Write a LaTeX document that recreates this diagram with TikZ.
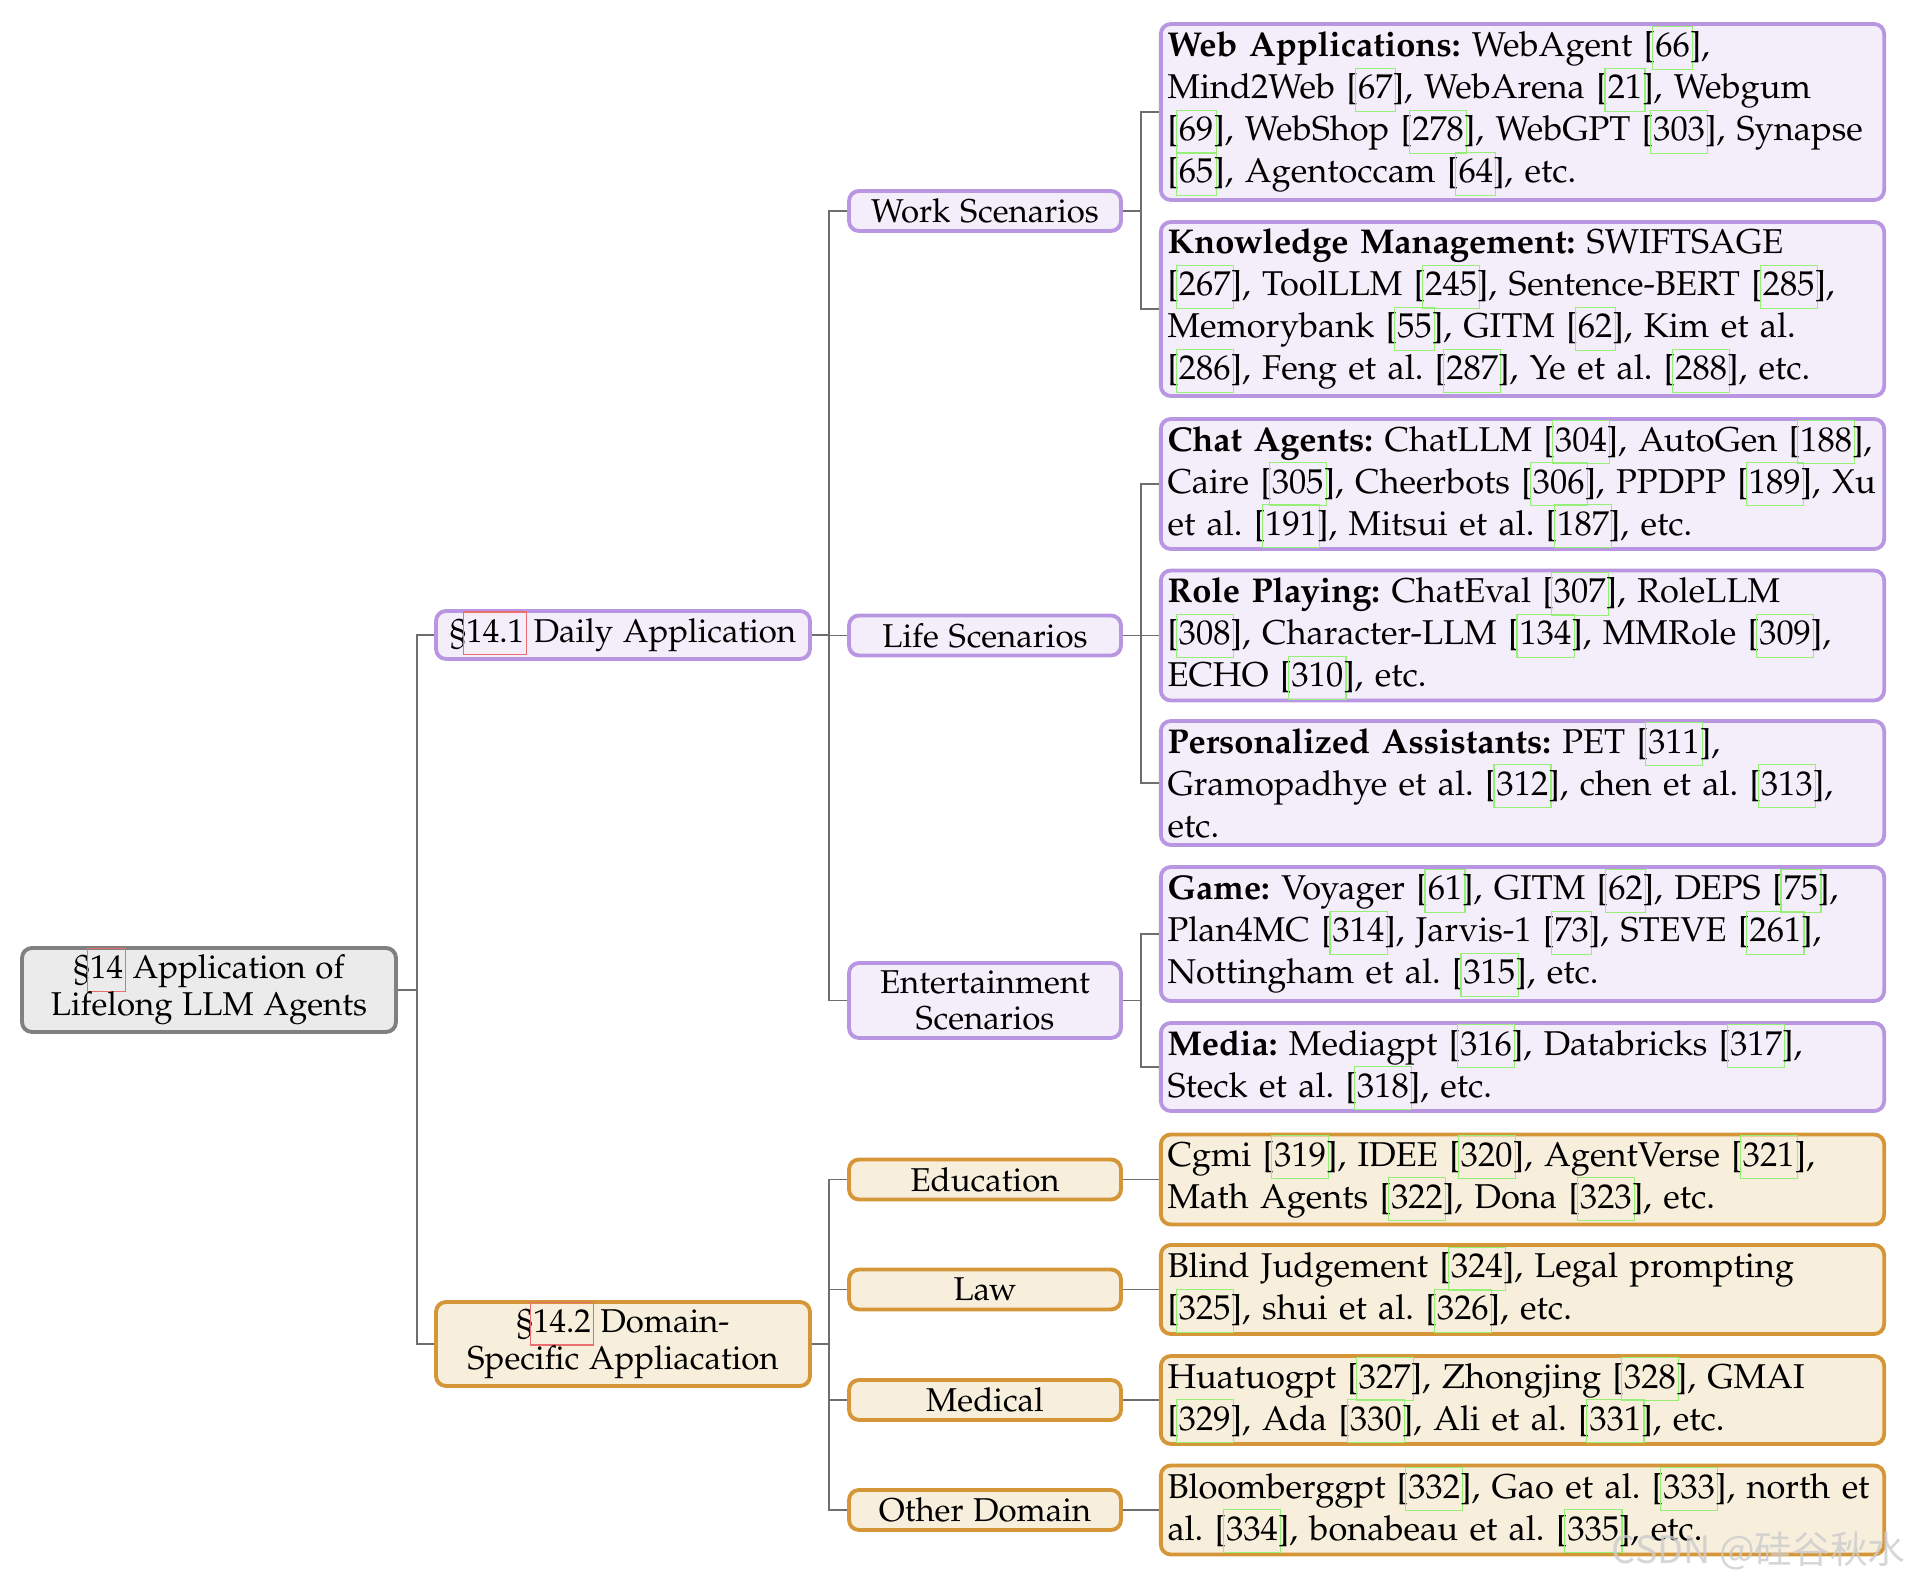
\documentclass[tikz,border=0pt]{standalone}
\usepackage[T1]{fontenc}
\usepackage{mathpazo}
\usepackage{fontspec}
\newfontfamily\wmfont{Noto Sans CJK SC}
\usepackage[T1]{fontenc}
\renewcommand{\rmdefault}{pplx}
\renewcommand{\familydefault}{\rmdefault}
\definecolor{purpB}{RGB}{185,150,225}
\definecolor{purpF}{RGB}{243,238,250}
\definecolor{orgB}{RGB}{212,150,55}
\definecolor{orgF}{RGB}{247,238,220}
\definecolor{rootB}{RGB}{128,128,128}
\definecolor{rootF}{RGB}{235,235,235}
\definecolor{connC}{RGB}{110,110,110}
\definecolor{linkgreen}{RGB}{150,240,120}
\definecolor{linkred}{RGB}{235,110,110}
\newcommand\lnkbox[2]{\setbox0=\hbox{#2}%
  \rlap{\kern-1pt\smash{\color{#1}\setlength\fboxsep{0pt}\setlength\fboxrule{0.35pt}%
  \fbox{\rule[-3.6pt]{0pt}{12.5pt}\kern\dimexpr\wd0+1.3pt\relax}}}\box0\relax}
\newcommand\rf[1]{[\lnkbox{linkgreen}{#1}]}
\newcommand\sect[1]{\S\lnkbox{linkred}{#1}}
\tikzset{
  basebox/.style={draw, line width=1.15pt, rounded corners=3pt, inner sep=0pt, anchor=center},
  rootbox/.style={basebox, draw=rootB, fill=rootF, align=center,
     font=\fontfamily{pplx}\fontsize{9.9}{11.2}\selectfont\frenchspacing, minimum width=112.2pt, minimum height=25.2pt},
  midP/.style={basebox, draw=purpB, fill=purpF, align=center,
     font=\fontfamily{pplx}\fontsize{9.9}{11}\selectfont\frenchspacing},
  midO/.style={basebox, draw=orgB, fill=orgF, align=center,
     font=\fontfamily{pplx}\fontsize{9.9}{11}\selectfont\frenchspacing},
  l1/.style={minimum width=112.2pt},
  l2/.style={minimum width=81.6pt},
  leafP/.style={basebox, draw=purpB, fill=purpF, align=left, text width=213pt, inner xsep=2pt,
     font=\fontfamily{pplx}\fontsize{10.33}{12.6}\selectfont\frenchspacing},
  leafO/.style={basebox, draw=orgB, fill=orgF, align=left, text width=213pt, inner xsep=2pt,
     font=\fontfamily{pplx}\fontsize{10.33}{12.6}\selectfont\frenchspacing},
  conn/.style={draw=connC, line width=0.4pt},
}
\begin{document}
\begin{tikzpicture}[x=0.3pt, y=-0.3pt]
\useasboundingbox (0,0) rectangle (1910,1582);
% root
\node[rootbox] (root) at (209,990) {\sect{14} Application of\\Lifelong LLM Agents};
% level 1
\node[midP, l1, minimum height=14.4pt] (daily) at (623,635) {\sect{14.1} Daily Application};
\node[midO, l1, minimum height=25.2pt] (domain) at (623,1344) {\sect{14.2} Domain-\\Specific Appliacation};
% level 2
\node[midP, l2, minimum height=12pt] (work) at (985,211) {Work Scenarios};
\node[midP, l2, minimum height=12pt] (life) at (985,635.5) {Life Scenarios};
\node[midP, l2, minimum height=22.5pt] (ent) at (985,1000.5) {Entertainment\\Scenarios};
\node[midO, l2, minimum height=12pt] (edu) at (985,1179.5) {Education};
\node[midO, l2, minimum height=12pt] (law) at (985,1289.5) {Law};
\node[midO, l2, minimum height=12pt] (med) at (985,1400) {Medical};
\node[midO, l2, minimum height=12pt] (oth) at (985,1510) {Other Domain};
% leaves
\node[leafP, minimum height=52.8pt] (web) at (1522.5,112) {\textbf{Web Applications:} WebAgent \rf{66},\\ Mind2Web \rf{67}, WebArena \rf{21}, Webgum\\ \rf{69}, WebShop \rf{278}, WebGPT \rf{303}, Synapse\\ \rf{65}, Agentoccam \rf{64}, etc.};
\node[leafP, minimum height=52.2pt] (know) at (1522.5,309) {\textbf{Knowledge Management:} SWIFTSAGE\\ \rf{267}, ToolLLM \rf{245}, Sentence-BERT \rf{285},\\ Memorybank \rf{55}, GITM \rf{62}, Kim et al.\\ \rf{286}, Feng et al. \rf{287}, Ye et al. \rf{288}, etc.};
\node[leafP, minimum height=39pt] (chat) at (1522.5,484) {\textbf{Chat Agents:} ChatLLM \rf{304}, AutoGen \rf{188},\\ Caire \rf{305}, Cheerbots \rf{306}, PPDPP \rf{189}, Xu\\ et al. \rf{191}, Mitsui et al. \rf{187}, etc.};
\node[leafP, minimum height=39pt] (role) at (1522.5,635.5) {\textbf{Role Playing:} ChatEval \rf{307}, RoleLLM\\ \rf{308}, Character-LLM \rf{134}, MMRole \rf{309},\\ ECHO \rf{310}, etc.};
\node[leafP, minimum height=37.2pt] (pers) at (1522.5,783) {\textbf{Personalized Assistants:} PET \rf{311},\\ Gramopadhye et al. \rf{312}, chen et al. \rf{313},\\ etc.};
\node[leafP, minimum height=40.2pt] (game) at (1522.5,934) {\textbf{Game:} Voyager \rf{61}, GITM \rf{62}, DEPS \rf{75},\\ Plan4MC \rf{314}, Jarvis-1 \rf{73}, STEVE \rf{261},\\ Nottingham et al. \rf{315}, etc.};
\node[leafP, minimum height=26.4pt] (media) at (1522.5,1067) {\textbf{Media:} Mediagpt \rf{316}, Databricks \rf{317},\\ Steck et al. \rf{318}, etc.};
\node[leafO, minimum height=27pt] (eduL) at (1522.5,1179.5) {Cgmi \rf{319}, IDEE \rf{320}, AgentVerse \rf{321},\\ Math Agents \rf{322}, Dona \rf{323}, etc.};
\node[leafO, minimum height=26.7pt] (lawL) at (1522.5,1289.5) {Blind Judgement \rf{324}, Legal prompting\\ \rf{325}, shui et al. \rf{326}, etc.};
\node[leafO, minimum height=26.4pt] (medL) at (1522.5,1400) {Huatuogpt \rf{327}, Zhongjing \rf{328}, GMAI\\ \rf{329}, Ada \rf{330}, Ali et al. \rf{331}, etc.};
\node[leafO, minimum height=26.7pt] (othL) at (1522.5,1510) {Bloomberggpt \rf{332}, Gao et al. \rf{333}, north et\\ al. \rf{334}, bonabeau et al. \rf{335}, etc.};
% connector columns
\coordinate (v1) at (417,0);
\coordinate (v2) at (829,0);
\coordinate (v3) at (1141,0);
% level 0 -> 1
\draw[conn] (root.east) -- (root.east -| v1);
\draw[conn] (daily.west) -- (daily.west -| v1) -- (domain.west -| v1) -- (domain.west);
% level 1 -> 2
\draw[conn] (daily.east) -- (daily.east -| v2);
\draw[conn] (work.west) -- (work.west -| v2) -- (ent.west -| v2) -- (ent.west);
\draw[conn] (life.west) -- (life.west -| v2);
\draw[conn] (domain.east) -- (domain.east -| v2);
\draw[conn] (edu.west) -- (edu.west -| v2) -- (oth.west -| v2) -- (oth.west);
\draw[conn] (law.west) -- (law.west -| v2);
\draw[conn] (med.west) -- (med.west -| v2);
% level 2 -> 3
\draw[conn] (work.east) -- (work.east -| v3);
\draw[conn] (web.west) -- (web.west -| v3) -- (know.west -| v3) -- (know.west);
\draw[conn] (life.east) -- (life.east -| v3);
\draw[conn] (chat.west) -- (chat.west -| v3) -- (pers.west -| v3) -- (pers.west);
\draw[conn] (role.west) -- (role.west -| v3);
\draw[conn] (ent.east) -- (ent.east -| v3);
\draw[conn] (game.west) -- (game.west -| v3) -- (media.west -| v3) -- (media.west);
\draw[conn] (edu.east) -- (eduL.west);
\draw[conn] (law.east) -- (lawL.west);
\draw[conn] (med.east) -- (medL.west);
\draw[conn] (oth.east) -- (othL.west);
% watermark
\node[anchor=east, text=gray!40, opacity=0.8, inner sep=0pt, font=\wmfont\fontsize{11.3}{12}\selectfont] (wm) at (1906,1551) {CSDN @硅谷秋水};
\end{tikzpicture}
\end{document}
